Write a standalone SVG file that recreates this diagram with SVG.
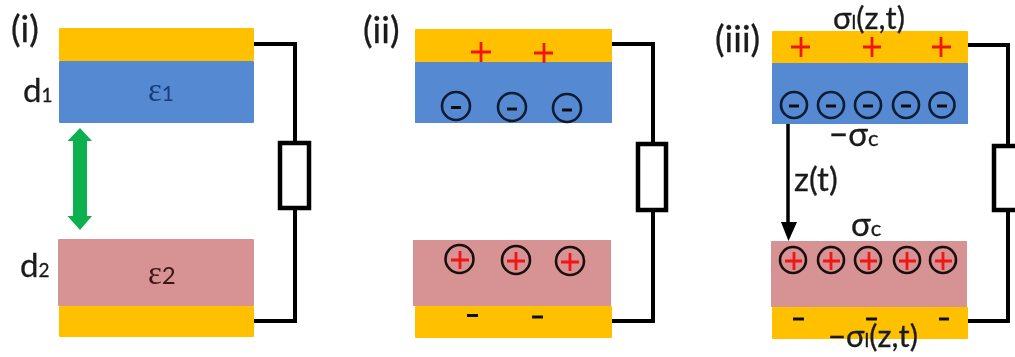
<svg xmlns="http://www.w3.org/2000/svg" width="1015" height="357" viewBox="0 0 1015 357">
<style>
.gold{fill:#ffc000}.blue{fill:#558ad2}.pink{fill:#d79293}
.wire{fill:none;stroke:#000;stroke-width:4}
.res{fill:#fff;stroke:#000;stroke-width:4.500}
.t{font-family:Lato,"Liberation Sans",sans-serif;fill:#1a1a1a;stroke:#1a1a1a;stroke-width:0.300}
.l{font-size:36px}.m{font-size:33px}.n{font-size:31px}
.cm{fill:none;stroke:#0b1a33;stroke-width:2.600}
.cp{fill:none;stroke:#1a1010;stroke-width:2.600}
.rp{stroke:#f01414;stroke-width:2.800;fill:none}
.bm{stroke:#111;stroke-width:3.200;fill:none}
</style>
<defs>
<filter id="soft" x="-2%" y="-2%" width="104%" height="104%"><feGaussianBlur stdDeviation="0.65"/></filter>
</defs>
<rect width="1015" height="357" fill="#fff"/>
<g filter="url(#soft)">
<g id="connectors">
<path class="wire" d="M254 44H295V143M295 208V321H254"/>
<path class="wire" d="M610 44H653V144M653 210V321H612"/>
<path class="wire" d="M965 45H1008V146M1008 210V321H968"/>
<path d="M788 124V226" stroke="#000" stroke-width="3.500" fill="none"/>
<path d="M781 222H797L788.500 241Z" fill="#000"/>
<path id="gap-arrow" d="M80 128L92 141H87V216H92L80 230L67.500 216H73V141H67.500Z" fill="#0bb04f"/>
</g>
<g id="panel-i">
<rect class="gold" x="59" y="28" width="195" height="33" rx="1"/>
<rect class="blue" x="59" y="61" width="195" height="62" rx="1"/>
<rect class="pink" x="58" y="239" width="196" height="67" rx="1"/>
<rect class="gold" x="59" y="306" width="195" height="31" rx="1"/>
<rect class="res" x="280" y="143" width="29" height="65"/>
<text class="t l" x="11" y="42">(i)</text>
<text class="t m" x="23" y="102">d<tspan font-size="19">1</tspan></text>
<text class="t m" x="20" y="277">d<tspan font-size="19">2</tspan></text>
<text x="148" y="101" font-family="Liberation Serif,serif" font-size="33" fill="#143c7c">ε<tspan font-family="Lato,sans-serif" font-size="21">1</tspan></text>
<text x="148" y="284" font-family="Liberation Serif,serif" font-size="33" fill="#3a1414">ε<tspan font-family="Lato,sans-serif" font-size="24">2</tspan></text>
</g>
<g id="panel-ii">
<rect class="gold" x="415" y="29" width="197" height="33" rx="1"/>
<rect class="blue" x="415" y="62" width="197" height="61"/>
<rect class="pink" x="413" y="240" width="198" height="66"/>
<rect class="gold" x="415" y="306" width="197" height="32" rx="1"/>
<rect class="res" x="638" y="144" width="28" height="66"/>
<text class="t l" x="363" y="43">(ii)</text>
<path class="rp" d="M471 52H491M481 42V62M534 53H553M544 43V63"/>
<path class="bm" d="M467 315.500H478M532 317H543"/>
<g class="cm"><circle cx="456" cy="106" r="14"/><circle cx="512" cy="107" r="14"/><circle cx="567" cy="108" r="14"/></g>
<path class="bm" d="M451 107.500H461M507 109H517M562 110H572"/>
<g class="cp"><circle cx="459.500" cy="259" r="14"/><circle cx="516" cy="260" r="14"/><circle cx="570" cy="261" r="14"/></g>
<path class="rp" d="M451 260H469M460 251V269M507 261H525M516 252V270M561 262H579M570 253V271"/>
</g>
<g id="panel-iii">
<rect class="gold" x="772" y="31" width="196" height="32" rx="1"/>
<rect class="blue" x="772" y="63" width="196" height="61"/>
<rect class="pink" x="771" y="241" width="196" height="66"/>
<rect class="gold" x="772" y="307" width="196" height="32" rx="1"/>
<rect class="res" x="994" y="146" width="30" height="64"/>
<text class="t l" x="715" y="52">(iii)</text>
<text class="t n" x="833" y="29">σ<tspan font-size="20">l</tspan>(z,t)</text>
<text class="t n" x="828" y="347">−σ<tspan font-size="20">l</tspan>(z,t)</text>
<text class="t m" x="829" y="146">−σ<tspan font-size="22">c</tspan></text>
<text class="t m" x="851" y="236">σ<tspan font-size="22">c</tspan></text>
<text class="t m" x="794" y="191">z(t)</text>
<path class="rp" d="M791 47H810M801 37V57M863 47H881M872 37V57M932 47H951M941 37V57"/>
<path class="bm" d="M793 319H804M866 319H877M939 319H949"/>
<g class="cm"><circle cx="794" cy="105" r="13"/><circle cx="831" cy="105" r="13"/><circle cx="868" cy="105" r="13"/><circle cx="906" cy="105" r="13"/><circle cx="942" cy="105" r="12.500"/></g>
<path class="bm" d="M789 106H799M826 106H836M863 106H873M901 106H911M937 106H947"/>
<g class="cp"><circle cx="793" cy="260" r="13"/><circle cx="831" cy="260" r="13"/><circle cx="868" cy="260" r="13"/><circle cx="907" cy="260" r="13"/><circle cx="943" cy="260" r="13"/></g>
<path class="rp" d="M785 261H802M794 252V270M823 261H840M831 252V270M860 261H877M869 252V270M899 261H916M907 252V270M935 261H952M943 252V270"/>
</g>
</g>
</svg>
